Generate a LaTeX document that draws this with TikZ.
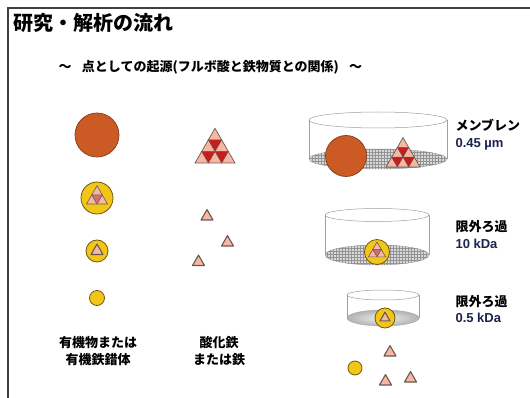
\documentclass[tikz,border=0pt]{standalone}
\usepackage{fontspec}
\setmainfont{Liberation Sans}
\newfontfamily\jp{Noto Sans CJK JP}
\usetikzlibrary{positioning,patterns}
\definecolor{humus}{RGB}{204,90,36}
\definecolor{humusedge}{RGB}{130,60,25}
\definecolor{amber}{RGB}{242,198,22}
\definecolor{amberedge}{RGB}{110,88,20}
\definecolor{rust}{RGB}{196,30,30}
\definecolor{blush}{RGB}{246,184,164}
\definecolor{ironedge}{RGB}{105,88,82}
\definecolor{ink}{RGB}{28,36,78}

\begin{document}
\begin{tikzpicture}[x=1pt,y=-1pt,
  humic/.style = {circle, draw=humusedge, fill=humus, line width=0.7pt, inner sep=0pt},
  organic/.style = {circle, draw=amberedge, fill=amber, line width=0.8pt, inner sep=0pt},
  rim/.style = {draw=gray!75, line width=0.5pt},
  mesh/.style = {draw=gray!75, fill=gray!30, postaction={pattern=grid, pattern color=gray!85}},
  haze/.style = {draw=gray!70, inner color=gray!12, outer color=gray!60},
  jlabel/.style = {font=\jp\bfseries\fontsize{13}{17}\selectfont, align=center},
  unit/.style = {font=\bfseries\fontsize{13}{15}\selectfont, text=ink, anchor=west},
  fe/.pic = {\filldraw[fill=blush, draw=ironedge, line width=1.1pt, line join=round] (-0.5,0) -- (0,-0.866) -- (0.5,0) -- cycle;},
  fe2/.pic = {\filldraw[fill=blush, draw=ironedge, line width=0.6pt] (-1,0) -- (0,-1.732) -- (1,0) -- cycle;
    \filldraw[fill=rust!65, draw=ironedge, line width=0.6pt] (-0.5,-0.866) -- (0.5,-0.866) -- (0,0) -- cycle;},
  oxide/.pic = {\filldraw[fill=blush, draw=ironedge, line width=0.7pt] (-1.5,0) -- (0,-2.598) -- (1.5,0) -- cycle;
    \filldraw[fill=rust, draw=ironedge, line width=0.5pt] (-0.5,-1.732) -- (0.5,-1.732) -- (0,-0.866) -- cycle;
    \filldraw[fill=rust, draw=ironedge, line width=0.5pt] (-1,-0.866) -- (0,-0.866) -- (-0.5,0) -- cycle;
    \filldraw[fill=rust, draw=ironedge, line width=0.5pt] (0,-0.866) -- (1,-0.866) -- (0.5,0) -- cycle;}]
\useasboundingbox (0,0) rectangle (530,398);
\fill[white] (0,0) rectangle (530,398);
\draw[black!75, line width=1.6pt] (8,402) -- (8,8) -- (534,8);

\node[anchor=west, font=\jp\bfseries\fontsize{20}{24}\selectfont] (title) at (10,23) {研究・解析の流れ};
\node[anchor=west, font=\jp\bfseries\fontsize{13}{15}\selectfont] (sub) at (55,67) {～\hspace{0.8em}点としての起源(フルボ酸と鉄物質との関係)\hspace{0.8em}～};

\foreach \cx/\ty/\by/\rx/\rt/\rb/\base in {378/120/159/69/8/10/mesh, 377/215/255/52/6.5/10/mesh, 383/295/318/36/5/8/haze}
{
  \path[\base] (\cx,\by) ellipse [x radius=\rx pt, y radius=\rb pt];
  \draw[rim] ({\cx-\rx},\ty) -- ({\cx-\rx},\by) ({\cx+\rx},\ty) -- ({\cx+\rx},\by);
  \draw[rim] (\cx,\ty) ellipse [x radius=\rx pt, y radius=\rt pt];
}

\node[humic, minimum size=44pt] (hs1) at (97,135) {};
\node[organic, minimum size=32pt] (om1) at (97,198) {};
\pic[scale=10.5] (c1) at (97,204) {fe2};
\node[organic, minimum size=22pt] (om2) at (97,251) {};
\pic[scale=12] (c2) at (97,254.5) {fe};
\node[organic, minimum size=15pt] (om3) at (97,298) {};

\pic[scale=13.33] (ox1) at (215,163) {oxide};
\foreach \x/\y [count=\i] in {207/220, 227.5/246, 198.5/265.5}
  \pic[scale=12] (fa\i) at (\x,\y) {fe};

\node[humic, minimum size=41pt] (hs2) at (346,156) {};
\pic[scale=11.33] (ox2) at (403,167) {oxide};
\node[organic, minimum size=25pt] (om4) at (377,252) {};
\pic[scale=8.5] (c4) at (377,256.8) {fe2};
\node[organic, minimum size=20pt] (om5) at (385,318) {};
\pic[scale=10] (c5) at (385,320.9) {fe};

\node[organic, minimum size=14pt] (om6) at (355,368) {};
\foreach \x/\y [count=\i] in {390/356, 385.5/385, 410.5/382}
  \pic[scale=12] (fb\i) at (\x,\y) {fe};

\node[jlabel] (lorg) at (98,351) {有機物または\\有機鉄錯体};
\node[jlabel] (lfe) at (219,351) {酸化鉄\\または鉄};

\node[jlabel, anchor=west] (mem) at (452,125) {メンブレン};
\node[unit] (mem45) at (452,144) {0.45 µm};
\node[jlabel, anchor=west] (uf10) at (452,227) {限外ろ過};
\node[unit] (kda10) at (452,244) {10 kDa};
\node[jlabel, anchor=west] (uf05) at (452,302) {限外ろ過};
\node[unit] (kda05) at (452,318) {0.5 kDa};
\end{tikzpicture}
\end{document}
